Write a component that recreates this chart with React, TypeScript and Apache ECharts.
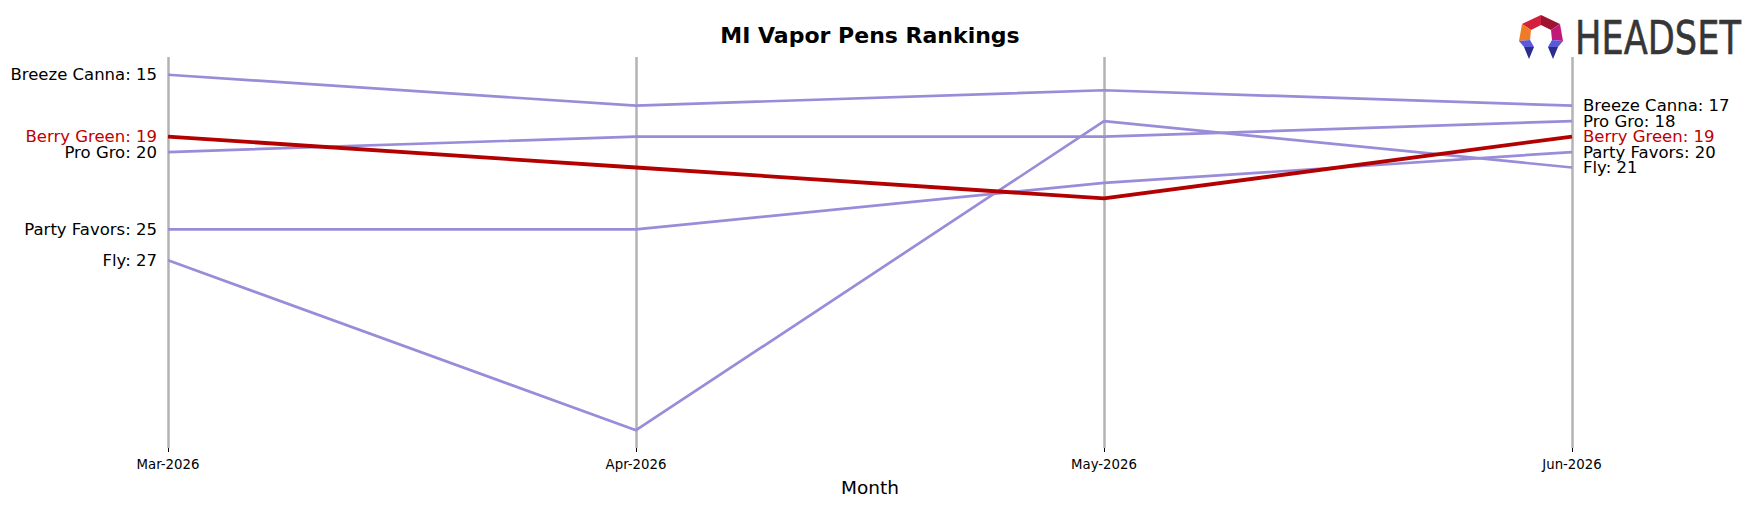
import React, { useEffect, useRef } from "react";
import * as echarts from "echarts";

const months = ["Mar-2026", "Apr-2026", "May-2026", "Jun-2026"];
const breezeCanna = [15, 17, 16, 17];
const proGro = [20, 19, 19, 18];
const partyFavors = [25, 25, 22, 20];
const fly = [27, 38, 18, 21];
const berryGreen = [19, 21, 23, 19];

const PURPLE = "#9a8cd9";
const RED = "#b30000";
const RED_TEXT = "#c00000";
const FONT = "DejaVu Sans";

function mk(name: string, vals: number[], color: string, width: number, textColor: string, z: number) {
  return {
    type: "line",
    name,
    z,
    data: vals.map((v, i) => {
      if (i === 0 || i === vals.length - 1) {
        return {
          value: v,
          label: {
            show: true,
            position: i === 0 ? "left" : "right",
            distance: 11,
            formatter: `${name}: ${v}`,
            color: textColor,
            fontSize: 16.5,
            fontFamily: FONT,
          },
        };
      }
      return v;
    }),
    symbol: "circle",
    symbolSize: 0.01,
    showSymbol: true,
    itemStyle: { color: "transparent" },
    lineStyle: { color, width },
    emphasis: { disabled: true },
    silent: true,
  };
}

export default function App() {
  const ref = useRef<HTMLDivElement>(null);
  useEffect(() => {
    if (!ref.current) return;
    const chart = echarts.init(ref.current, undefined, { renderer: "svg" });
    const ix = 1541;
    const iconPolys = [
      { pts: [[ix, 15], [ix, 25], [ix - 10, 30], [ix - 19, 24]], c: "#d3203b" },
      { pts: [[ix, 15], [ix + 19, 24], [ix + 10, 30], [ix, 25]], c: "#9e1430" },
      { pts: [[ix - 19, 24], [ix - 10, 30], [ix - 11, 40], [ix - 22, 41]], c: "#f07b26" },
      { pts: [[ix + 19, 24], [ix + 22, 41], [ix + 11, 40], [ix + 10, 30]], c: "#c2187a" },
      { pts: [[ix - 22, 41], [ix - 11, 40], [ix - 7, 47], [ix - 17, 47]], c: "#5a5ad6" },
      { pts: [[ix - 17, 47], [ix - 7, 47], [ix - 12, 59]], c: "#2b2d8c" },
      { pts: [[ix + 22, 41], [ix + 17, 47], [ix + 7, 47], [ix + 11, 40]], c: "#5a5ad6" },
      { pts: [[ix + 17, 47], [ix + 12, 59], [ix + 7, 47]], c: "#2b2d8c" },
    ];
    chart.setOption({
      animation: false,
      backgroundColor: "#ffffff",
      title: {
        text: "MI Vapor Pens Rankings",
        left: 870,
        textAlign: "center",
        top: 24,
        padding: 0,
        textStyle: { fontSize: 22, fontWeight: "bold", fontFamily: FONT, color: "#000" },
      },
      grid: { left: 168, right: 184, top: 57, bottom: 59, containLabel: false },
      xAxis: {
        type: "category",
        data: months,
        boundaryGap: false,
        axisLine: { show: false },
        axisTick: { show: true, length: 4, lineStyle: { color: "#000", width: 1 } },
        axisLabel: { fontSize: 13.3, color: "#000", margin: 10, fontFamily: FONT },
        splitLine: { show: true, lineStyle: { color: "#b3b3b3", width: 2.5 } },
        name: "Month",
        nameLocation: "middle",
        nameGap: 30,
        nameTextStyle: { fontSize: 18.5, color: "#000", fontFamily: FONT },
      },
      yAxis: {
        type: "value",
        inverse: true,
        min: 13.85,
        max: 39.15,
        show: false,
        splitLine: { show: false },
      },
      series: [
        mk("Breeze Canna", breezeCanna, PURPLE, 2.7, "#000", 2),
        mk("Pro Gro", proGro, PURPLE, 2.7, "#000", 2),
        mk("Party Favors", partyFavors, PURPLE, 2.7, "#000", 2),
        mk("Fly", fly, PURPLE, 2.7, "#000", 2),
        mk("Berry Green", berryGreen, RED, 3.8, RED_TEXT, 3),
      ],
      graphic: [
        ...iconPolys.map((p) => ({
          type: "polygon",
          shape: { points: p.pts },
          style: { fill: p.c },
          z: 10,
        })),
        {
          type: "text",
          x: 1575,
          y: 38.5,
          scaleX: 0.765,
          z: 10,
          style: {
            text: "HEADSET",
            fontSize: 46,
            fontFamily: FONT,
            fill: "#363636",
            stroke: "#363636",
            lineWidth: 0.6,
            textAlign: "left",
            textVerticalAlign: "middle",
          },
        },
      ],
    });
    return () => chart.dispose();
  }, []);
  return (
    <div
      ref={ref}
      style={{ position: "fixed", left: 0, top: 0, width: 1756, height: 507 }}
    />
  );
}
